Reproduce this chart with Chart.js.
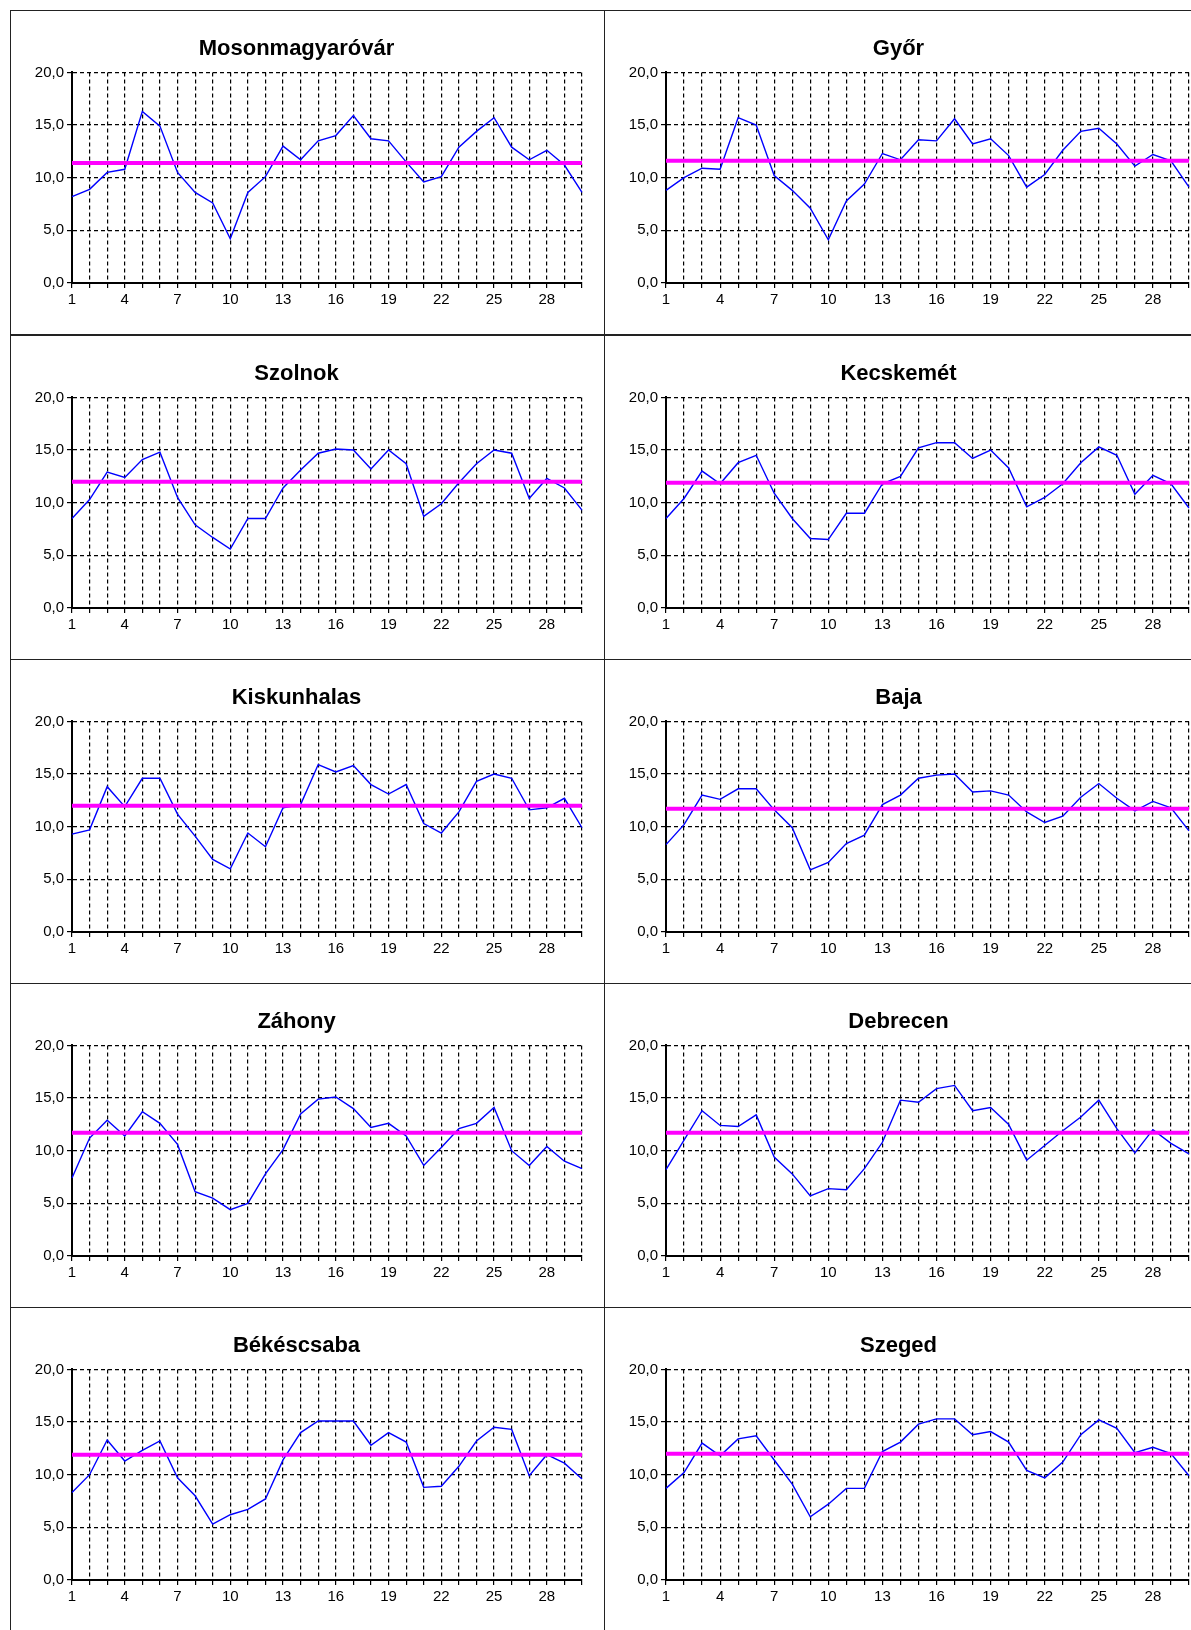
<!DOCTYPE html>
<html>
<head>
<meta charset="utf-8">
<script src="https://cdn.jsdelivr.net/npm/chart.js@4.4.0/dist/chart.umd.min.js"></script>
<style>
  body { margin: 0; background: #fff; width: 1191px; height: 1630px; overflow: hidden; position: relative; }
  .panel { position: absolute; border: 1px solid #222; box-sizing: border-box; background: #fff; }
  .panel canvas { position: absolute; left: 0; top: 0; }
</style>
</head>
<body>
<script>
const days = [];
for (let d = 1; d <= 30; d++) days.push(String(d));

const cities = ['Mosonmagyaróvár', 'Győr', 'Szolnok', 'Kecskemét', 'Kiskunhalas', 'Baja', 'Záhony', 'Debrecen', 'Békéscsaba', 'Szeged'];

const mosonmagyarovar = [8.2, 8.9, 10.5, 10.8, 16.3, 14.9, 10.5, 8.6, 7.6, 4.2, 8.6, 10.1, 13.0, 11.7, 13.5, 14.0, 15.9, 13.7, 13.5, 11.5, 9.6, 10.1, 12.9, 14.4, 15.7, 12.9, 11.7, 12.6, 11.2, 8.6];
const gyor = [8.8, 10.0, 10.9, 10.8, 15.7, 15.0, 10.2, 8.8, 7.1, 4.1, 7.8, 9.4, 12.3, 11.7, 13.6, 13.5, 15.6, 13.2, 13.7, 12.1, 9.1, 10.3, 12.6, 14.4, 14.7, 13.2, 11.1, 12.2, 11.6, 9.1];
const szolnok = [8.5, 10.3, 12.9, 12.4, 14.1, 14.8, 10.5, 7.9, 6.7, 5.6, 8.5, 8.5, 11.4, 13.1, 14.7, 15.1, 15.0, 13.2, 15.0, 13.7, 8.7, 9.9, 11.9, 13.7, 15.0, 14.7, 10.4, 12.3, 11.4, 9.3];
const kecskemet = [8.5, 10.4, 13.0, 11.8, 13.8, 14.5, 10.9, 8.5, 6.6, 6.5, 9.0, 9.0, 11.8, 12.5, 15.2, 15.7, 15.7, 14.2, 15.0, 13.3, 9.6, 10.5, 11.8, 13.8, 15.3, 14.5, 10.8, 12.6, 11.8, 9.5];
const kiskunhalas = [9.3, 9.7, 13.8, 11.9, 14.6, 14.6, 11.2, 9.1, 6.9, 6.0, 9.4, 8.1, 11.8, 12.1, 15.9, 15.2, 15.8, 14.0, 13.1, 14.0, 10.3, 9.4, 11.4, 14.3, 15.0, 14.6, 11.6, 11.8, 12.7, 9.9];
const baja = [8.3, 10.2, 13.0, 12.6, 13.6, 13.6, 11.6, 9.9, 5.9, 6.6, 8.4, 9.2, 12.1, 13.0, 14.6, 14.9, 15.0, 13.3, 13.4, 13.0, 11.4, 10.4, 11.0, 12.8, 14.1, 12.7, 11.5, 12.4, 11.8, 9.6];
const zahony = [7.4, 11.2, 12.9, 11.4, 13.7, 12.6, 10.6, 6.1, 5.5, 4.4, 5.0, 7.8, 10.1, 13.5, 14.9, 15.1, 14.0, 12.2, 12.6, 11.4, 8.6, 10.3, 12.1, 12.6, 14.1, 10.0, 8.6, 10.4, 9.0, 8.3];
const debrecen = [8.2, 11.0, 13.8, 12.4, 12.3, 13.4, 9.4, 7.8, 5.7, 6.4, 6.3, 8.3, 10.8, 14.8, 14.6, 15.9, 16.2, 13.8, 14.1, 12.5, 9.1, 10.5, 11.9, 13.2, 14.8, 12.1, 9.8, 12.0, 10.7, 9.7];
const bekescsaba = [8.3, 10.0, 13.3, 11.3, 12.3, 13.2, 9.7, 8.0, 5.3, 6.2, 6.7, 7.7, 11.4, 14.0, 15.1, 15.1, 15.1, 12.8, 14.0, 13.1, 8.8, 8.9, 10.8, 13.2, 14.5, 14.3, 9.9, 11.9, 11.1, 9.6];
const szeged = [8.7, 10.2, 13.0, 11.8, 13.4, 13.7, 11.4, 9.1, 6.0, 7.2, 8.7, 8.7, 12.2, 13.1, 14.8, 15.3, 15.3, 13.8, 14.1, 13.1, 10.4, 9.7, 11.2, 13.8, 15.2, 14.4, 12.1, 12.6, 12.0, 9.9];

const series = [mosonmagyarovar, gyor, szolnok, kecskemet, kiskunhalas, baja, zahony, debrecen, bekescsaba, szeged];
const averages = [11.4, 11.6, 12.0, 11.9, 12.0, 11.7, 11.7, 11.7, 11.9, 12.0];

const yTicks = [0, 5, 10, 15, 20];

const font = "'Liberation Sans', Arial, sans-serif";
const rowTops = [10, 335, 659, 983, 1307];
const rowH = 324;

cities.forEach(function (name, i) {
    const col = i % 2;
    const row = Math.floor(i / 2);
    const left = col === 0 ? 10 : 604;
    const width = col === 0 ? 595 : 600;
    const panel = document.createElement('div');
    panel.className = 'panel';
    panel.style.left = left + 'px';
    panel.style.top = rowTops[row] + 'px';
    panel.style.width = width + 'px';
    panel.style.height = (rowH + 1) + 'px';
    const canvas = document.createElement('canvas');
    panel.appendChild(canvas);
    document.body.appendChild(panel);

    const canvasW = col === 0 ? 594 : 587;
    canvas.width = canvasW;
    canvas.height = rowH;
    canvas.style.width = canvasW + 'px';
    canvas.style.height = rowH + 'px';

    const avgLine = days.map(function () { return averages[i]; });

    new Chart(canvas.getContext('2d'), {
        type: 'line',
        data: {
            labels: days,
            datasets: [{
                data: avgLine,
                borderColor: '#FF00FF',
                borderWidth: 4,
                pointRadius: 0,
                tension: 0
            }, {
                data: series[i],
                borderColor: '#0000FF',
                borderWidth: 1.4,
                pointRadius: 0,
                tension: 0
            }]
        },
        options: {
            responsive: false,
            animation: false,
            devicePixelRatio: 1,
            layout: { padding: { left: 0, right: col === 0 ? 23 : 0, top: 8, bottom: 0 } },
            plugins: {
                legend: { display: false },
                tooltip: { enabled: false },
                title: {
                    display: true,
                    text: name,
                    color: '#000',
                    font: { family: font, size: 22, weight: 'bold' },
                    padding: { top: 17, bottom: 10 }
                }
            },
            scales: {
                x: {
                    offset: false,
                    afterFit: function (s) { s.height = 52; },
                    grid: { color: '#000', lineWidth: 1.2, tickLength: 5, tickBorderDash: [], drawOnChartArea: true },
                    border: { color: '#000', width: 2, dash: [4, 3] },
                    ticks: {
                        autoSkip: false,
                        maxRotation: 0,
                        color: '#000',
                        font: { family: font, size: 15 },
                        padding: 3,
                        callback: function (v, idx) { return idx % 3 === 0 ? days[idx] : ''; }
                    }
                },
                y: {
                    min: 0,
                    max: 20,
                    afterFit: function (s) { s.width = 61; },
                    afterBuildTicks: function (s) { s.ticks = yTicks.map(function (v) { return { value: v }; }); },
                    grid: { color: '#000', lineWidth: 1.2, tickLength: 5, tickBorderDash: [] },
                    border: { color: '#000', width: 2, dash: [4, 3] },
                    ticks: {
                        color: '#000',
                        font: { family: font, size: 15 },
                        padding: 3,
                        callback: function (v) { return v.toFixed(1).replace('.', ','); }
                    }
                }
            }
        }
    });
});
</script>
</body>
</html>
